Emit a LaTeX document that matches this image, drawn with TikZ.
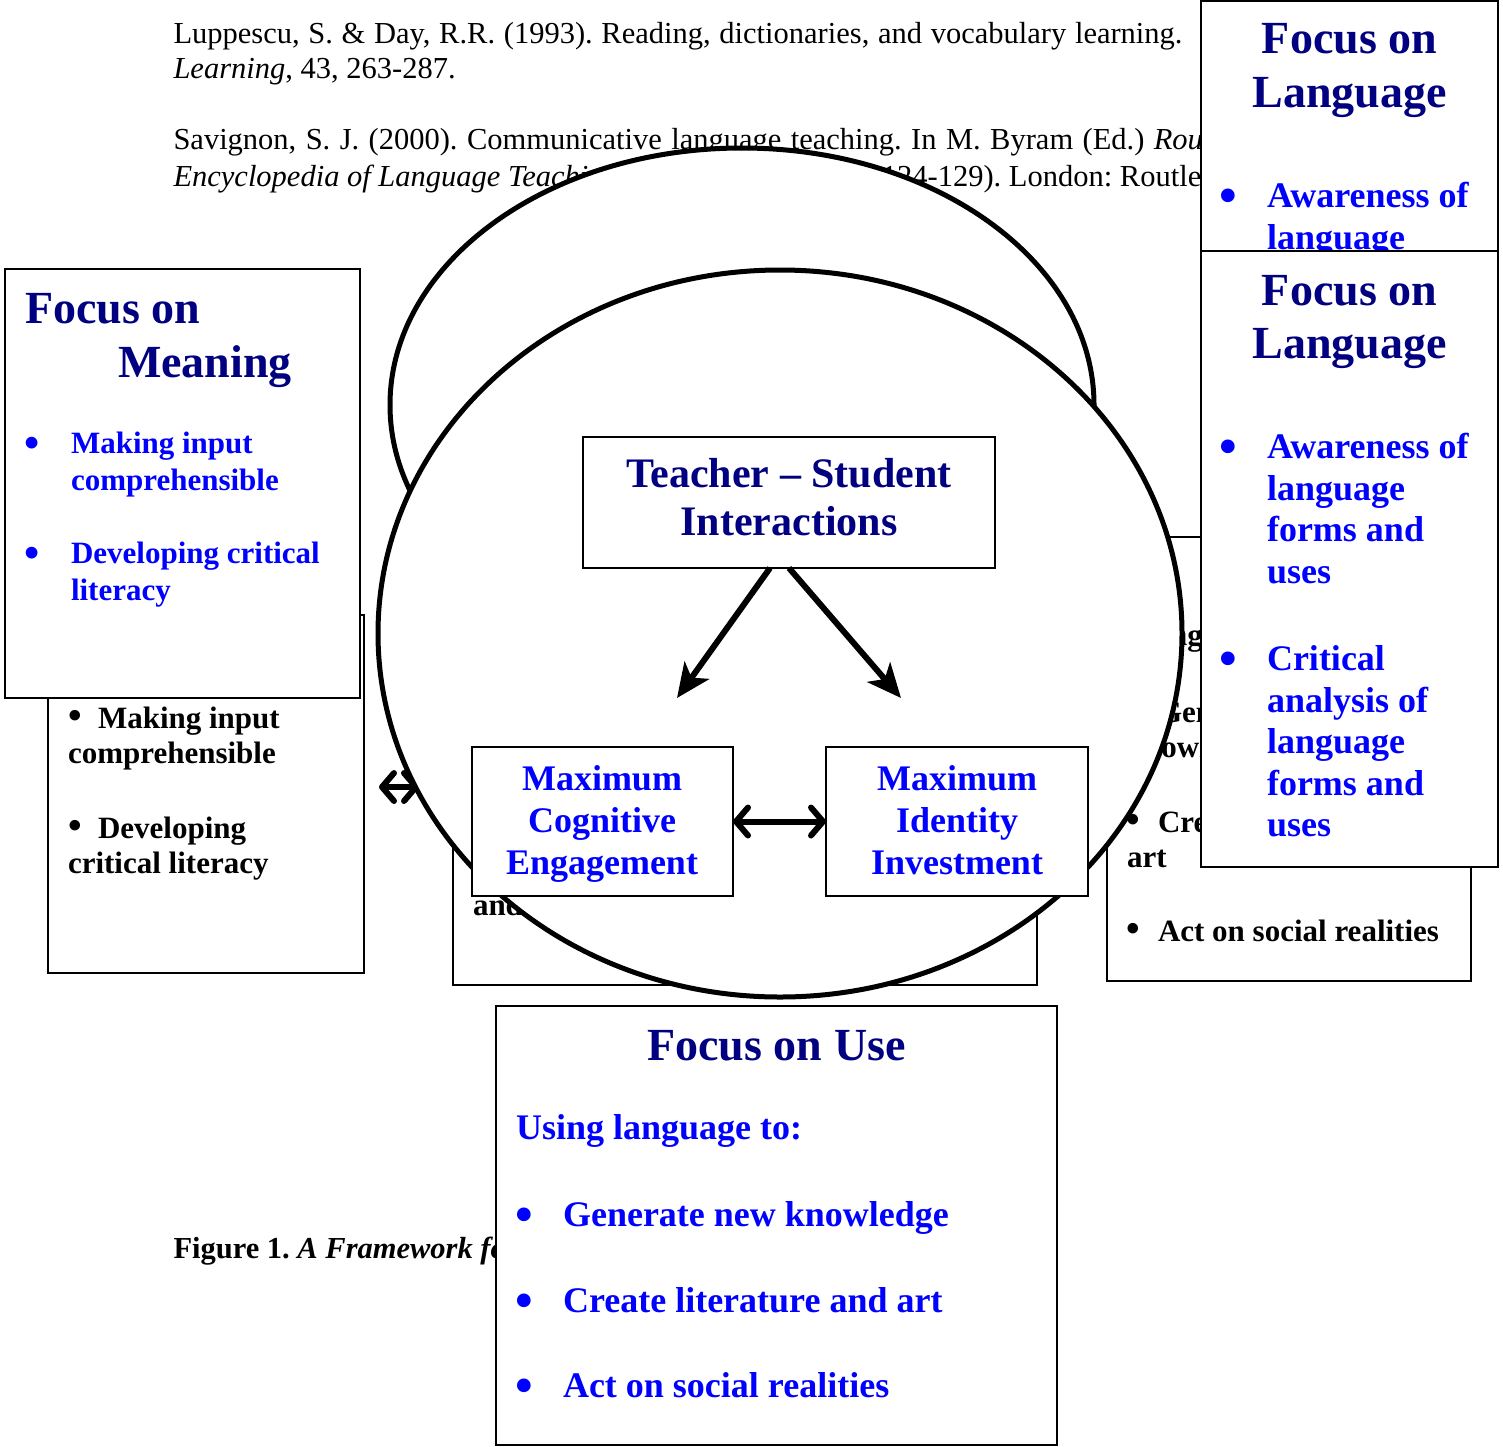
\documentclass[tikz,border=0pt]{standalone}
\usepackage{fontspec}
\setmainfont{Liberation Serif}
\usetikzlibrary{arrows.meta,shapes.geometric}
\definecolor{navy}{RGB}{0,0,128}
\definecolor{vblue}{RGB}{0,0,255}
\frenchspacing
\newcommand{\bigbul}{\raisebox{-0.14em}{\scalebox{1.4}{\textbullet}}}
\newcommand{\midbul}{\scalebox{1.25}{\textbullet}}
\begin{document}
\begin{tikzpicture}[x=1pt,y=-1pt,
  txt/.style={anchor=base west,inner sep=0pt,outer sep=0pt},
  ctxt/.style={anchor=base,inner sep=0pt,outer sep=0pt},
  box/.style={draw=black,line width=2pt,fill=white,inner sep=0pt,outer sep=0pt,anchor=north west},
  oval/.style={ellipse,draw=black,line width=5pt,fill=white,inner sep=0pt,outer sep=0pt},
  refT/.style={font=\fontsize{30.5}{35}\selectfont},
  capT/.style={font=\fontsize{30.5}{35}\selectfont\bfseries},
  ttl/.style={font=\fontsize{46}{53}\selectfont\bfseries,text=navy},
  tsT/.style={font=\fontsize{42}{48}\selectfont\bfseries,text=navy},
  blt/.style={font=\fontsize{36}{42}\selectfont\bfseries,text=vblue},
  sml/.style={font=\fontsize{31}{36}\selectfont\bfseries,text=vblue},
  hid/.style={font=\fontsize{31}{36}\selectfont\bfseries,text=black},
  tsar/.style={line width=6pt,-{Stealth[length=34pt,width=30pt,inset=9pt]}},
  dbl/.style={line width=6pt,line cap=round,{Straight Barb[length=12pt,width=28pt,round]}-{Straight Barb[length=12pt,width=28pt,round]}}
]
\fill[white] (0,0) rectangle (1503,1446);
\useasboundingbox (0,0) rectangle (1503,1446);

% reference text
\node[txt,refT] (ref1) at (173.5,43) {\makebox[1009pt][s]{Luppescu, S. \& Day, R.R. (1993). Reading, dictionaries, and vocabulary learning.}};
\node[txt,refT] (ref2) at (173.5,78) {\textit{Learning}, 43, 263-287.};
\node[txt,refT] (ref3) at (173.5,149) {\makebox[1104pt][s]{Savignon, S. J. (2000). Communicative language teaching. In M. Byram (Ed.) \textit{Routledge}}};
\node[txt,refT] (ref4a) at (173.5,186) {\textit{Encyclopedia of Language Teaching and Learning}};
\node[txt,refT] (ref4b) at (826,186) {(pp. 124-129). London: Routle};
\node[txt,capT] (cap) at (173.5,1258) {Figure 1. \textit{A Framework for}};

% back ellipse
\node[oval,minimum width=704pt,minimum height=514pt] (back) at (742,405) {};

% hidden left box
\node[box,minimum width=316pt,minimum height=358pt] (lhid) at (48,615) {};
\node[ctxt,hid] (lhb1) at (75,728) {\midbul};
\node[txt,hid] (lh1) at (98,728) {Making input};
\node[txt,hid] (lh2) at (68,763) {comprehensible};
\node[ctxt,hid] (lhb2) at (75,838) {\midbul};
\node[txt,hid] (lh3) at (98,838) {Developing};
\node[txt,hid] (lh4) at (68,873) {critical literacy};

% hidden middle box
\node[box,minimum width=584pt,minimum height=425pt] (mhid) at (453,560) {};
\node[txt,hid] (mh1) at (473,915) {and};

% hidden right box
\node[box,minimum width=364pt,minimum height=444pt] (rhid) at (1107,537) {};
\node[txt,hid] (rh1) at (1127,645) {Using};
\node[ctxt,hid] (rhb1) at (1133,722) {\midbul};
\node[txt,hid] (rh2) at (1158,722) {Gener};
\node[txt,hid] (rh3) at (1127,757) {knowledge};
\node[ctxt,hid] (rhb2) at (1133,832) {\midbul};
\node[txt,hid] (rh4) at (1158,832) {Create};
\node[txt,hid] (rh5) at (1127,867) {art};
\node[ctxt,hid] (rhb3) at (1133,941) {\midbul};
\node[txt,hid] (rh6) at (1158,941) {Act on social realities};

% left double arrow
\coordinate (la1) at (379,787);
\coordinate (la2) at (419,787);
\draw[dbl] (la1) -- (la2);

% front circle
\node[oval,minimum width=804pt,minimum height=727pt] (front) at (780,633.5) {};

% teacher-student box
\node[box,minimum width=412pt,minimum height=131pt] (ts) at (583,437) {};
\node[ctxt,tsT] (ts1) at (789,487) {Teacher -- Student};
\node[ctxt,tsT] (ts2) at (789,535) {Interactions};

\coordinate (tipL) at (677,698);
\coordinate (tipR) at (901,698);
\draw[tsar] ([xshift=-19pt]ts.south) -- (tipL);
\draw[tsar] (ts.south) -- (tipR);

% maximum boxes
\node[box,minimum width=261.5pt,minimum height=149pt] (cog) at (471.5,747) {};
\node[ctxt,blt] (cg1) at (602,790) {Maximum};
\node[ctxt,blt] (cg2) at (602,832) {Cognitive};
\node[ctxt,blt] (cg3) at (602,874) {Engagement};
\node[box,minimum width=262pt,minimum height=149pt] (idn) at (826,747) {};
\node[ctxt,blt] (id1) at (957,790) {Maximum};
\node[ctxt,blt] (id2) at (957,832) {Identity};
\node[ctxt,blt] (id3) at (957,874) {Investment};
\draw[dbl] (cog.east) -- (idn.west);

% focus on meaning
\node[box,minimum width=355pt,minimum height=429pt] (fom) at (5,269) {};
\node[txt,ttl] (fm1) at (25,323) {Focus on};
\node[txt,ttl] (fm2) at (118,377) {Meaning};
\node[ctxt,sml] (fmb1) at (32,453) {\bigbul};
\node[txt,sml] (fm3) at (71,453) {Making input};
\node[txt,sml] (fm4) at (71,490) {comprehensible};
\node[ctxt,sml] (fmb2) at (32,563) {\bigbul};
\node[txt,sml] (fm5) at (71,563) {Developing critical};
\node[txt,sml] (fm6) at (71,600) {literacy};

% focus on language (first)
\node[box,minimum width=297pt,minimum height=400pt] (fol1) at (1201,1) {};
\node[ctxt,ttl] (fa1) at (1349.5,53) {Focus on};
\node[ctxt,ttl] (fa2) at (1349.5,107) {Language};
\node[ctxt,blt] (fab1) at (1228,207) {\bigbul};
\node[txt,blt] (fa3) at (1267,207) {Awareness of};
\node[txt,blt] (fa4) at (1267,249) {language};

% focus on language (second)
\node[box,minimum width=297pt,minimum height=616pt] (fol2) at (1201,251) {};
\node[ctxt,ttl] (fl1) at (1349.5,305) {Focus on};
\node[ctxt,ttl] (fl2) at (1349.5,358) {Language};
\node[ctxt,blt] (flb1) at (1228,458) {\bigbul};
\node[txt,blt] (fl3) at (1267,458) {Awareness of};
\node[txt,blt] (fl4) at (1267,500) {language};
\node[txt,blt] (fl5) at (1267,541) {forms and};
\node[txt,blt] (fl6) at (1267,583) {uses};
\node[ctxt,blt] (flb2) at (1228,670) {\bigbul};
\node[txt,blt] (fl7) at (1267,670) {Critical};
\node[txt,blt] (fl8) at (1267,712) {analysis of};
\node[txt,blt] (fl9) at (1267,753) {language};
\node[txt,blt] (fl10) at (1267,795) {forms and};
\node[txt,blt] (fl11) at (1267,836) {uses};

% focus on use
\node[box,minimum width=561pt,minimum height=439pt] (fou) at (496,1006) {};
\node[ctxt,ttl] (fu1) at (776.5,1060) {Focus on Use};
\node[txt,blt] (fu2) at (516,1139) {Using language to:};
\node[ctxt,blt] (fub1) at (524,1226) {\bigbul};
\node[txt,blt] (fu3) at (563,1226) {Generate new knowledge};
\node[ctxt,blt] (fub2) at (524,1312) {\bigbul};
\node[txt,blt] (fu4) at (563,1312) {Create literature and art};
\node[ctxt,blt] (fub3) at (524,1397) {\bigbul};
\node[txt,blt] (fu5) at (563,1397) {Act on social realities};
\end{tikzpicture}
\end{document}
